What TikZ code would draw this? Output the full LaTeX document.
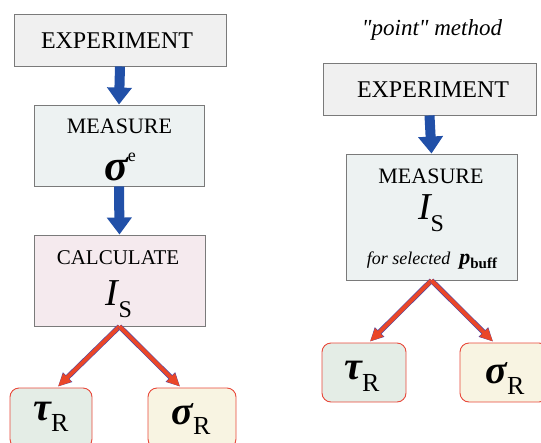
\documentclass[tikz,border=0pt]{standalone}
\usepackage{fontspec}
\setmainfont{Liberation Serif}
\newfontfamily\qfont{Liberation Serif}[Ligatures=TeXOff]
\usetikzlibrary{arrows.meta,calc}
\definecolor{boxgray}{HTML}{7A7A7A}
\definecolor{expfill}{HTML}{F0F0F0}
\definecolor{measfill}{HTML}{EDF2F2}
\definecolor{calcfill}{HTML}{F5EAEE}
\definecolor{taufill}{HTML}{E4EDE6}
\definecolor{sigfill}{HTML}{F8F4E2}
\definecolor{redline}{HTML}{E8483A}
\definecolor{arrowblue}{HTML}{2150A8}
\definecolor{arrowred}{HTML}{EA4628}
\definecolor{edgeblue}{HTML}{4848A8}
\newcommand{\fsz}[1]{\fontsize{#1}{#1}\selectfont}
\begin{document}
\begin{tikzpicture}[x=1pt,y=-1pt,
  box/.style={draw=boxgray, line width=0.9pt, inner sep=0pt},
  rbox/.style={draw=redline, line width=0.9pt, rounded corners=9pt, inner sep=0pt},
  lbl/.style={anchor=base, inner sep=0pt},
  bluearrow/.style={draw=arrowblue, line width=10pt, -{Triangle[length=17pt,width=24pt]}},
  redarrow/.style={draw=arrowred, line width=4pt, -{Triangle[length=13pt,width=11pt]},
    preaction={draw=edgeblue, line width=5.2pt, -{Triangle[length=13.5pt,width=12.5pt]}}},
]
\path[use as bounding box] (0,0) rectangle (541,442);
\clip (0,0) rectangle (541,442);

% ---------- left column ----------
\node[box, fill=expfill, minimum width=212pt, minimum height=52pt] (exp1) at (120,40) {};
\node[box, fill=measfill, minimum width=170pt, minimum height=81pt] (meas1) at (119,145.5) {};
\node[box, fill=calcfill, minimum width=171pt, minimum height=91pt] (calc1) at (119.5,280.5) {};
\node[rbox, fill=taufill, minimum width=82pt, minimum height=60pt] (tau1) at (51,418) {};
\node[rbox, fill=sigfill, minimum width=88pt, minimum height=60pt] (sig1) at (192,418) {};

\node[lbl, font=\fsz{24}] (t1) at (117,48) {EXPERIMENT};
\node[lbl, font=\fsz{22}] (t2) at (119.5,133) {MEASURE};
\node[lbl] (t3) at (120,180) {{\fsz{44}\bfseries\itshape σ}\raisebox{19pt}{\fsz{18}e}};
\node[lbl, font=\fsz{21}] (t4) at (118,264) {CALCULATE};
\node[lbl] (t5) at (119,305) {{\fsz{38}\itshape I}\raisebox{-12pt}{\fsz{24}S}};
\node[lbl] (t6) at (51,420) {{\fsz{40}\bfseries\itshape τ}\raisebox{-11pt}{\fsz{26}R}};
\node[lbl] (t7) at (191,424) {{\fsz{40}\bfseries\itshape σ}\raisebox{-10pt}{\fsz{26}R}};

\draw[bluearrow] (exp1.south) -- (meas1.north);
\draw[bluearrow] (meas1.south) -- (calc1.north);
\draw[redarrow] (calc1.south) -- ($(tau1.north)+(7,-1)$);
\draw[redarrow] (calc1.south) -- ($(sig1.north)+(-12,-1)$);

% ---------- right column ----------
\node[lbl, font=\qfont\fsz{23}\itshape] (title) at (432,35) {"point" method};
\node[box, fill=expfill, minimum width=213pt, minimum height=52pt] (exp2) at (429.5,89) {};
\node[box, fill=measfill, minimum width=171pt, minimum height=126pt] (meas2) at (431.5,217) {};
\node[rbox, fill=taufill, minimum width=84pt, minimum height=59pt] (tau2) at (364,372.5) {};
\node[rbox, fill=sigfill, minimum width=88pt, minimum height=59pt] (sig2) at (504,372.5) {};

\node[lbl, font=\fsz{24}] (u1) at (433,97) {EXPERIMENT};
\node[lbl, font=\fsz{22}] (u2) at (431,183) {MEASURE};
\node[lbl] (u3) at (431,219) {{\fsz{38}\itshape I}\raisebox{-12pt}{\fsz{24}S}};
\node[lbl] (u4) at (432,264) {{\fsz{18}\itshape for selected}\hspace{9pt}{\fsz{22}\bfseries\itshape p}\raisebox{-4pt}{\fsz{15}\bfseries buff}};
\node[lbl] (u5) at (362,379) {{\fsz{40}\bfseries\itshape τ}\raisebox{-12pt}{\fsz{26}R}};
\node[lbl] (u6) at (505,383) {{\fsz{40}\bfseries\itshape σ}\raisebox{-11pt}{\fsz{26}R}};

\draw[bluearrow] (exp2.south) -- (meas2.north);
\draw[redarrow] (meas2.south) -- ($(tau2.north)+(6,-1)$);
\draw[redarrow] (meas2.south) -- ($(sig2.north)+(-11,-1)$);
\end{tikzpicture}
\end{document}
